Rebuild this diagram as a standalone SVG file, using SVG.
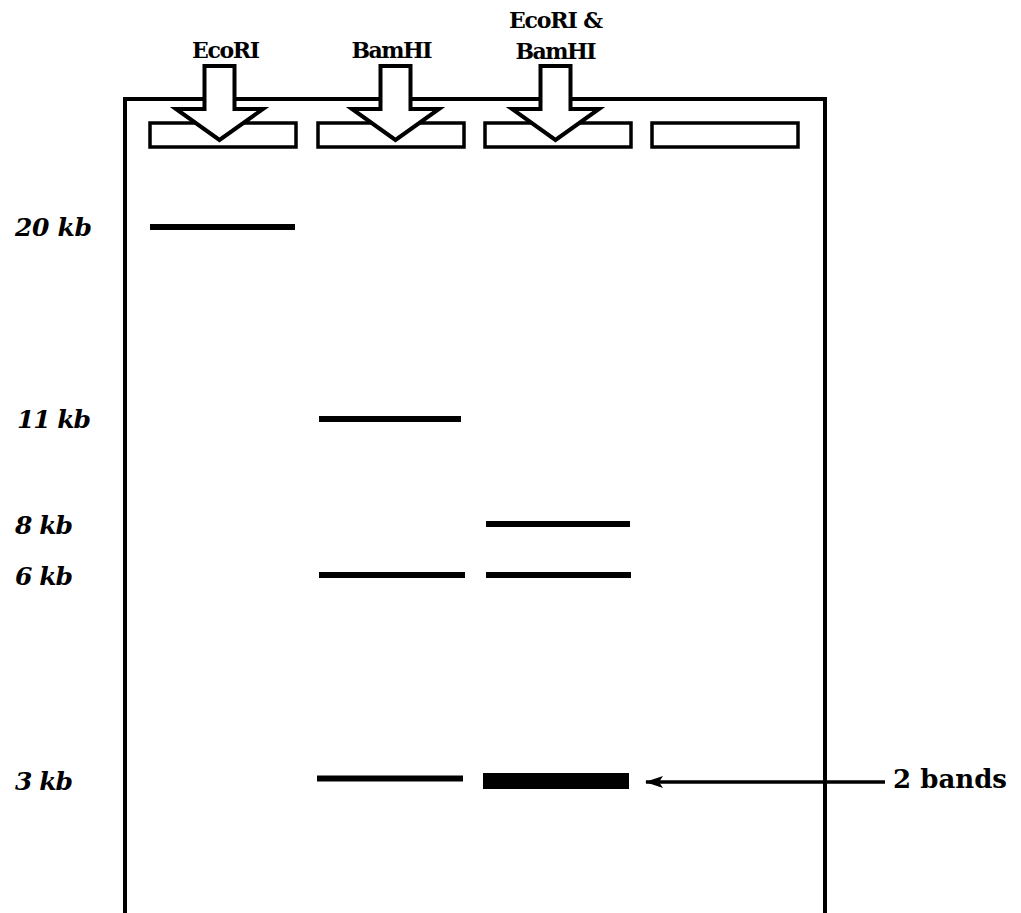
<svg xmlns="http://www.w3.org/2000/svg" width="1021" height="913" viewBox="0 0 1021 913">
<style>
.lbl{font-family:"DejaVu Serif","Liberation Serif",serif;font-weight:bold;font-size:22px;fill:#000}
.size{font-family:"DejaVu Serif","Liberation Serif",serif;font-weight:bold;font-style:italic;font-size:25px;fill:#000}
.note{font-family:"DejaVu Serif","Liberation Serif",serif;font-weight:bold;font-size:26px;fill:#000}
.well{fill:#fff;stroke:#000;stroke-width:3.5}
.arr{fill:#fff;stroke:#000;stroke-width:4;stroke-linejoin:miter;stroke-miterlimit:10}
.band{stroke:#000;stroke-width:6;fill:none}
</style>
<defs>
<marker id="ah" markerWidth="18" markerHeight="14" viewBox="0 0 18 14" refX="17" refY="7" orient="auto" markerUnits="userSpaceOnUse">
<path d="M0,1 L18,7 L0,13 L4,7 Z" fill="#000"/>
</marker>
</defs>
<rect width="1021" height="913" fill="#fff"/>
<g id="gel">
<path d="M125,913 V99 H825 V913" fill="none" stroke="#000" stroke-width="4"/>
</g>
<g id="wells">
<rect id="well1" class="well" x="150" y="123" width="146" height="24"/>
<rect id="well2" class="well" x="318" y="123" width="146" height="24"/>
<rect id="well3" class="well" x="485" y="123" width="146" height="24"/>
<rect id="well4" class="well" x="652" y="123" width="146" height="24"/>
</g>
<g id="lane1">
<polygon class="arr" points="204.5,66 234.5,66 234.5,109 263,109 219.5,140 176,109 204.5,109"/>
<text class="lbl" x="226" y="58" text-anchor="middle" textLength="68">EcoRI</text>
</g>
<g id="lane2">
<polygon class="arr" points="380.5,66 410.5,66 410.5,109 439,109 395.5,140 352,109 380.5,109"/>
<text class="lbl" x="392" y="58" text-anchor="middle" textLength="81">BamHI</text>
</g>
<g id="lane3">
<polygon class="arr" points="540.5,66 570.5,66 570.5,109 599,109 555.5,140 512,109 540.5,109"/>
<text class="lbl" x="556" y="28" text-anchor="middle" textLength="94">EcoRI &amp;</text>
<text class="lbl" x="556" y="59" text-anchor="middle" textLength="81">BamHI</text>
</g>
<g id="sizes">
<text class="size" x="15" y="236" textLength="77">20 kb</text>
<text class="size" x="17" y="428" textLength="74">11 kb</text>
<text class="size" x="15" y="534" textLength="58">8 kb</text>
<text class="size" x="15" y="585" textLength="58">6 kb</text>
<text class="size" x="15" y="790" textLength="58">3 kb</text>
</g>
<g id="bands">
<line class="band" x1="150" y1="227" x2="295" y2="227"/>
<line class="band" x1="319" y1="419" x2="461" y2="419"/>
<line class="band" x1="486" y1="524" x2="630" y2="524"/>
<line class="band" x1="319" y1="575" x2="465" y2="575"/>
<line class="band" x1="486" y1="575" x2="631" y2="575"/>
<line class="band" x1="317" y1="778.5" x2="463" y2="778.5"/>
<rect x="483" y="773" width="146" height="16" fill="#000"/>
</g>
<g id="connectors">
<line x1="885" y1="782" x2="646" y2="782" stroke="#000" stroke-width="3.5" marker-end="url(#ah)"/>
</g>
<g id="note">
<text class="note" x="893" y="788" textLength="114">2 bands</text>
</g>
</svg>
